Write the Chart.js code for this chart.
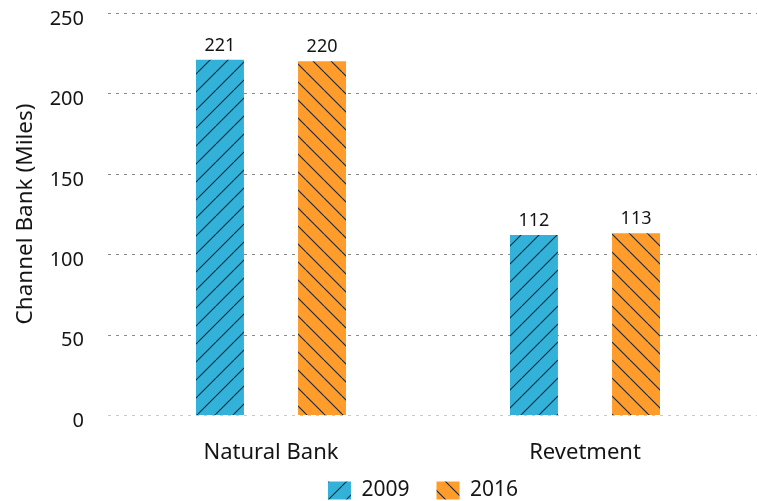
<!DOCTYPE html>
<html>
<head>
<meta charset="utf-8">
<script src="https://cdn.jsdelivr.net/npm/chart.js@4"></script>
<style>
  html, body { margin: 0; padding: 0; background: #fff; }
  #wrap { width: 757px; height: 501px; position: relative; }
</style>
</head>
<body>
<div id="wrap"><canvas id="myChart"></canvas></div>
<script>
const categories = ['Natural Bank', 'Revetment'];
const years = ['2009', '2016'];
const values2009 = [221, 112];
const values2016 = [220, 113];
const yTicks = [0, 50, 100, 150, 200, 250];

const FONT = "'Source Sans Pro', 'Noto Sans', sans-serif";
const TEXT = '#151515';

// hatched fill, dir 1 = "/" , -1 = "\"
function hatch(color, dir) {
  const s = 18;
  const c = document.createElement('canvas');
  c.width = s; c.height = s;
  const ctx = c.getContext('2d');
  ctx.fillStyle = color;
  ctx.fillRect(0, 0, s, s);
  ctx.strokeStyle = '#1a2633';
  ctx.lineWidth = 1.1;
  ctx.beginPath();
  for (let k = -1; k <= 1; k++) {
    if (dir > 0) {
      ctx.moveTo(k * s, s);
      ctx.lineTo(k * s + s, 0);
    } else {
      ctx.moveTo(k * s, 0);
      ctx.lineTo(k * s + s, s);
    }
  }
  ctx.stroke();
  return ctx.createPattern(c, 'repeat');
}

const blueFill = hatch('#33b2d9', 1);
const orangeFill = hatch('#ff9c2b', -1);

// keep the legend short and push it under the plot's middle
const legendPlace = {
  id: 'legendPlace',
  beforeUpdate(chart) {
    const lg = chart.legend;
    if (lg && !lg._patched) {
      const fit = lg.fit;
      lg.fit = function () { fit.call(this); this.height = 34; };
      lg._patched = true;
    }
  },
  afterLayout(chart) {
    const lg = chart.legend;
    lg.top = 489 - 27 - 9;
    lg.left = chart.chartArea.left - 10;
    lg.right = chart.chartArea.right;
  }
};

// dashed grid lines spanning past the plot area
const gridPlugin = {
  id: 'grid',
  beforeDatasetsDraw(chart) {
    const ctx = chart.ctx;
    const y = chart.scales.y;
    ctx.save();
    ctx.lineWidth = 1;
    ctx.setLineDash([3, 5]);
    yTicks.forEach(v => {
      const py = Math.round(y.getPixelForValue(v)) + 0.5;
      ctx.strokeStyle = v === 0 ? '#c8c8c8' : '#8a8a8a';
      ctx.beginPath();
      ctx.moveTo(108, py);
      ctx.lineTo(chart.width, py);
      ctx.stroke();
    });
    ctx.restore();
  }
};

// value labels over the bars
const labelPlugin = {
  id: 'barLabels',
  afterDatasetsDraw(chart) {
    const ctx = chart.ctx;
    ctx.save();
    ctx.font = '18px ' + FONT;
    ctx.fillStyle = TEXT;
    ctx.textAlign = 'center';
    ctx.textBaseline = 'bottom';
    chart.data.datasets.forEach((ds, i) => {
      chart.getDatasetMeta(i).data.forEach((bar, j) => {
        ctx.fillText(ds.data[j], bar.x, bar.y - 5);
      });
    });
    ctx.restore();
  }
};

new Chart(document.getElementById('myChart'), {
  type: 'bar',
  data: {
    labels: categories,
    datasets: [
      { label: years[0], data: values2009, backgroundColor: blueFill, borderWidth: 0 },
      { label: years[1], data: values2016, backgroundColor: orangeFill, borderWidth: 0 }
    ]
  },
  options: {
    responsive: true,
    maintainAspectRatio: false,
    animation: false,
    categoryPercentage: 0.65,
    barPercentage: 0.47,
    layout: { padding: { top: 13, right: 15, left: 0, bottom: 0 } },
    plugins: {
      tooltip: { enabled: false },
      legend: {
        position: 'bottom',
        labels: {
          boxWidth: 23,
          boxHeight: 18,
          padding: 27,
          color: TEXT,
          font: { family: FONT, size: 21 }
        }
      }
    },
    scales: {
      x: {
        afterFit(scale) { scale.height = 52; },
        grid: { display: false },
        border: { display: false },
        ticks: { color: TEXT, padding: 17, font: { family: FONT, size: 22 } }
      },
      y: {
        min: 0,
        max: 250,
        afterBuildTicks(scale) { scale.ticks = yTicks.map(v => ({ value: v })); },
        afterFit(scale) {
          scale.width = 114;
          scale.paddingTop = 0;
          scale.paddingBottom = 0;
        },
        grid: { display: false },
        border: { display: false },
        title: { display: true, text: 'Channel Bank (Miles)', color: TEXT, padding: 12, font: { family: FONT, size: 22.5 } },
        ticks: { color: TEXT, padding: 22, labelOffset: 6, font: { family: FONT, size: 20 } }
      }
    }
  },
  plugins: [legendPlace, gridPlugin, labelPlugin]
});
</script>
</body>
</html>
